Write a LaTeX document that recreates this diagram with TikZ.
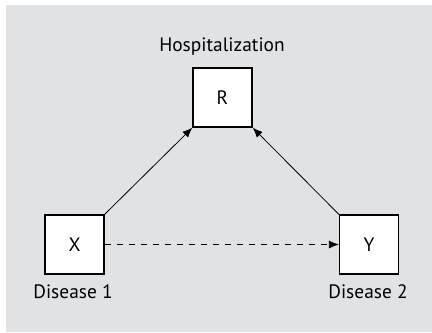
\documentclass[tikz,border=0pt]{standalone}
\usepackage{fontspec}
\setmainfont{PT Sans}
\usetikzlibrary{arrows.meta}
\definecolor{panelgray}{RGB}{225,226,228}
\tikzset{var/.style={draw, fill=white, line width=0.6pt, minimum size=29.5pt, inner sep=0pt, font=\fontsize{9.7}{11}\selectfont}}
\tikzset{lbl/.style={font=\fontsize{9.7}{11}\selectfont, inner sep=0pt}}
\tikzset{link/.style={line width=0.4pt, -{Latex[length=5pt,width=4pt]}}}

\begin{document}
\begin{tikzpicture}[x=0.5pt, y=-0.5pt]
        \useasboundingbox (0,0) rectangle (432,332);
        \fill[panelgray] (6,5) rectangle (432,332);

        \node[var] (R) at (222.5,97.5) {R};
        \node[var] (X) at (74.5,244.5) {X};
        \node[var] (Y) at (369,244.5) {Y};

        \node[lbl] (hosp) at (222,47) {Hospitalization};
        \node[lbl] (dis1) at (73,292) {Disease 1};
        \node[lbl] (dis2) at (368,292) {Disease 2};

        \draw[link] (X.north east) -- (R.south west);
        \draw[link] (Y.north west) -- (R.south east);
        \draw[link, dashed] (X.east) -- (Y.west);
\end{tikzpicture}
\end{document}
